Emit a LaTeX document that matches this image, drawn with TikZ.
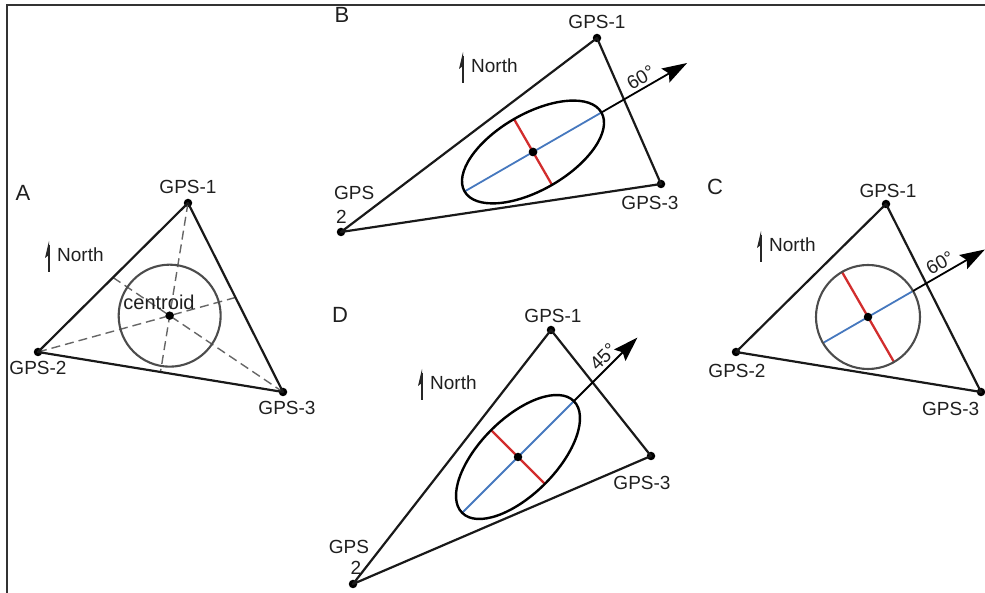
\documentclass[tikz,border=0pt]{standalone}
\usepackage{fontspec}
\setmainfont{Liberation Sans}
\usetikzlibrary{arrows.meta,calc}
\definecolor{axisblue}{RGB}{70,120,190}
\definecolor{axisred}{RGB}{210,45,45}
\begin{document}
\begin{tikzpicture}[x=1pt,y=1pt,
  dot/.style={circle,fill=black,inner sep=0pt,minimum size=8.5pt},
  lbl/.style={inner sep=0pt,font=\fontsize{19}{21}\selectfont,text=black!88},
  panel/.style={inner sep=0pt,font=\fontsize{22}{24}\selectfont,text=black!88},
  tri/.style={line width=2.2pt,black!90,line join=round},
  mediandash/.style={dash pattern=on 9pt off 5pt,line width=1.4pt,black!60},
  ring/.style={line width=2.1pt,black!70},
  ell/.style={line width=2.4pt,black},
  bluel/.style={line width=1.8pt,axisblue},
  redl/.style={line width=2.3pt,axisred},
  dirarrow/.style={line width=1.8pt,black,-{Stealth[length=25pt,width=16pt,inset=4pt]}},
  frameline/.style={line width=2pt,black!80},
  northarrow/.pic={
    \draw[line width=1.6pt,black!85] (0,0) -- (0,27);
    \fill[black!85] (0,31) -- (-4,14) -- (0,17) -- cycle;
    \node[lbl,anchor=west] (-t) at (8,17) {North};
  }]
\useasboundingbox (0,0) rectangle (985,593);
\clip (0,0) rectangle (985,593);

% frame
\coordinate (fBL) at (6.5,-2);
\coordinate (fTL) at (6.5,588);
\coordinate (fTR) at (990,588);
\draw[frameline] (fBL) -- (fTL) -- (fTR);

% ---------------- Panel A ----------------
\node[panel] (Alab) at (23,400) {A};
\pic (nA) at (49,321) {northarrow};
\node[dot] (A1) at (188,390) {};
\node[dot] (A2) at (38,241) {};
\node[dot] (A3) at (283,201) {};
\coordinate (Ac) at (barycentric cs:A1=1,A2=1,A3=1);
\coordinate (Am1) at ($(A2)!0.5!(A3)$);
\coordinate (Am2) at ($(A1)!0.5!(A3)$);
\coordinate (Am3) at ($(A1)!0.5!(A2)$);
\draw[mediandash] (A1.center) -- (Am1);
\draw[mediandash] (A2.center) -- (Am2);
\draw[mediandash] (A3.center) -- (Am3);
\draw[ring] (Ac) circle[radius=51];
\draw[tri] (A1.center) -- (A2.center) -- (A3.center) -- cycle;
\node[dot] (Acd) at (Ac) {};
\node[lbl,font=\fontsize{20}{22}\selectfont] (Acl) at (159,291) {centroid};
\node[lbl] (A1l) at (188,406) {GPS-1};
\node[lbl] (A2l) at (38,225) {GPS-2};
\node[lbl] (A3l) at (287,185) {GPS-3};

% ---------------- Panel B ----------------
\node[panel] (Blab) at (342,578) {B};
\pic (nB) at (463,510) {northarrow};
\node[dot] (B1) at (597,555) {};
\node[dot] (B2) at (341,361) {};
\node[dot] (B3) at (661,409) {};
\draw[tri] (B1.center) -- (B2.center) -- (B3.center) -- cycle;
\node[dot] (Bc) at (533,441) {};
\coordinate (Bea) at ($(Bc)+(210:79)$);
\coordinate (Beb) at ($(Bc)+(30:79)$);
\coordinate (Bra) at ($(Bc)+(120:38)$);
\coordinate (Brb) at ($(Bc)+(300:38)$);
\coordinate (Btip) at ($(Bc)+(30:178)$);
\draw[bluel] (Bea) -- (Beb);
\draw[redl] (Bra) -- (Brb);
\draw[ell,rotate around={30:(Bc)}] (Bc) ellipse[x radius=79,y radius=38];
\node[dot] (Bcd) at (Bc) {};
\draw[dirarrow] (Beb) -- node[lbl,sloped,above=3pt,pos=0.52] (Bang) {60°} (Btip);
\node[lbl] (B1l) at (597,571) {GPS-1};
\node[lbl,anchor=west] (B2l) at (334,400) {GPS};
\node[lbl,anchor=west] (B2n) at (336,376) {2};
\node[lbl] (B3l) at (650,390) {GPS-3};

% ---------------- Panel C ----------------
\node[panel] (Clab) at (715,406) {C};
\pic (nC) at (761,331) {northarrow};
\node[dot] (C1) at (886,389) {};
\node[dot] (C2) at (736,241) {};
\node[dot] (C3) at (981,201) {};
\draw[tri] (C1.center) -- (C2.center) -- (C3.center) -- cycle;
\coordinate (Cc) at (868,276);
\coordinate (Cea) at ($(Cc)+(210:52)$);
\coordinate (Ceb) at ($(Cc)+(30:52)$);
\coordinate (Cra) at ($(Cc)+(120:52)$);
\coordinate (Crb) at ($(Cc)+(300:52)$);
\coordinate (Ctip) at ($(Cc)+(30:135)$);
\draw[bluel] (Cea) -- (Ceb);
\draw[redl] (Cra) -- (Crb);
\draw[ring] (Cc) circle[radius=52];
\node[dot] (Ccd) at (Cc) {};
\draw[dirarrow] (Ceb) -- node[lbl,sloped,above=3pt,pos=0.45] (Cang) {60°} (Ctip);
\node[lbl] (C1l) at (888,402) {GPS-1};
\node[lbl] (C2l) at (737,222) {GPS-2};
\node[lbl,anchor=west] (C3l) at (922,184) {GPS-3};

% ---------------- Panel D ----------------
\node[panel] (Dlab) at (340,278) {D};
\pic (nD) at (422,193) {northarrow};
\node[dot] (D1) at (551,263) {};
\node[dot] (D2) at (353,9) {};
\node[dot] (D3) at (651,137) {};
\draw[tri] (D1.center) -- (D2.center) -- (D3.center) -- cycle;
\coordinate (Dc) at (518,136);
\coordinate (Dea) at ($(Dc)+(225:79)$);
\coordinate (Deb) at ($(Dc)+(45:79)$);
\coordinate (Dra) at ($(Dc)+(135:38)$);
\coordinate (Drb) at ($(Dc)+(315:38)$);
\coordinate (Dtip) at ($(Dc)+(45:169)$);
\draw[bluel] (Dea) -- (Deb);
\draw[redl] (Dra) -- (Drb);
\draw[ell,rotate around={45:(Dc)}] (Dc) ellipse[x radius=79,y radius=38];
\node[dot] (Dcd) at (Dc) {};
\draw[dirarrow] (Deb) -- node[lbl,sloped,above=3pt,pos=0.58] (Dang) {45°} (Dtip);
\node[lbl] (D1l) at (553,277) {GPS-1};
\node[lbl] (D2l) at (349,46) {GPS};
\node[lbl] (D2n) at (356,25) {2};
\node[lbl] (D3l) at (642,110) {GPS-3};
\end{tikzpicture}
\end{document}
